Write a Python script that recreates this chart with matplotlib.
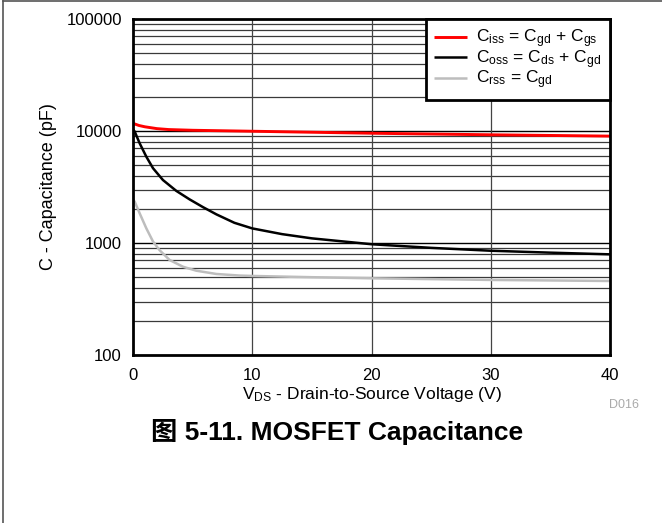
import matplotlib
matplotlib.use("Agg")
import matplotlib.pyplot as plt
from matplotlib.lines import Line2D
from matplotlib.ticker import FixedLocator, NullFormatter

plt.rcParams['font.family'] = ['Liberation Sans', 'Noto Sans CJK SC', 'DejaVu Sans']
plt.rcParams['mathtext.fontset'] = 'custom'
plt.rcParams['mathtext.rm'] = 'Liberation Sans'
plt.rcParams['mathtext.it'] = 'Liberation Sans'
plt.rcParams['mathtext.bf'] = 'Liberation Sans:bold'

# ---- data ----
v_ciss = [0, 0.5, 1, 2, 3, 5, 10, 20, 30, 40]
ciss = [11700, 11200, 10900, 10500, 10300, 10150, 9950, 9550, 9250, 9000]

v_coss = [0, 0.14, 0.56, 1.12, 1.68, 2.51, 3.63, 4.75, 5.87, 7, 8.5, 10, 12.5, 15, 20, 25, 30, 35, 40]
coss = [10300, 9900, 7760, 5890, 4650, 3650, 2920, 2450, 2090, 1800, 1515, 1350, 1200, 1100, 975, 905, 853, 820, 792]

v_crss = [0, 0.14, 0.56, 1.12, 1.68, 2.24, 3.07, 4.19, 5.3, 6.99, 8.94, 10, 15, 20, 30, 40]
crss = [2450, 2340, 1840, 1350, 1030, 860, 705, 614, 566, 529, 512, 508, 495, 484, 468, 458]

labels = [r"C$_{\rm iss}$ = C$_{\rm gd}$ + C$_{\rm gs}$",
          r"C$_{\rm oss}$ = C$_{\rm ds}$ + C$_{\rm gd}$",
          r"C$_{\rm rss}$ = C$_{\rm gd}$"]
colors = ['#ff0000', '#000000', '#bdbdbd']

xticks = [0, 10, 20, 30, 40]
yticks = [100, 1000, 10000, 100000]
ytick_labels = ['100', '1000', '10000', '100000']

fig = plt.figure(figsize=(6.62, 5.23), dpi=100)
ax = fig.add_axes([133/662, 1-355/523, (610-133)/662, (355-19)/523])

ax.set_yscale('log')
ax.set_xlim(0, 40)
ax.set_ylim(100, 100000)

# grid
minor = [m * 10**e for e in (2, 3, 4) for m in range(2, 10)]
for y in minor:
    ax.axhline(y, color='#3a3a3a', lw=0.9, zorder=1)
for y in yticks[1:-1]:
    ax.axhline(y, color='black', lw=1.0, zorder=1)
for x in xticks[1:-1]:
    ax.axvline(x, color='#444444', lw=0.9, zorder=1)

ax.plot(v_ciss, ciss, color=colors[0], lw=2.1, label=labels[0], zorder=3, solid_capstyle='butt')
ax.plot(v_coss, coss, color=colors[1], lw=1.8, label=labels[1], zorder=3, solid_capstyle='butt')
ax.plot(v_crss, crss, color=colors[2], lw=1.8, label=labels[2], zorder=3, solid_capstyle='butt')

ax.set_xticks(xticks)
ax.set_xticklabels([str(t) for t in xticks])
ax.yaxis.set_major_locator(FixedLocator(yticks))
ax.set_yticklabels(ytick_labels)
ax.yaxis.set_minor_locator(FixedLocator(minor))
ax.yaxis.set_minor_formatter(NullFormatter())
ax.tick_params(axis='both', which='both', length=0, labelsize=12)
ax.tick_params(axis='x', pad=9)
ax.tick_params(axis='y', pad=8)

for s in ax.spines.values():
    s.set_linewidth(2.0)
    s.set_color('black')
    s.set_zorder(5)

ax.set_ylabel('C - Capacitance (pF)', fontsize=13, labelpad=7)
ax.set_xlabel(r'V$_{\rm DS}$ - Drain-to-Source Voltage (V)', fontsize=12.5, labelpad=2)

leg = ax.legend(loc='upper right', fontsize=12.5, frameon=True, fancybox=False,
                framealpha=1, edgecolor='black', borderaxespad=0,
                handlelength=1.85, handletextpad=0.55, labelspacing=-0.12,
                borderpad=0.5)
leg.get_frame().set_linewidth(2.0)
leg.set_zorder(6)

fig.text(639/662, 1-405/523, 'D016', color='#aaaaaa', fontsize=9, ha='right', va='center')
fig.text(337/662, 1-432/523, '图 5-11. MOSFET Capacitance', fontsize=19, fontweight='bold',
         ha='center', va='center')

# outer page border (top and left)
fig.add_artist(Line2D([3/662, 1], [1-1/523, 1-1/523], color='#555555', lw=1.2, transform=fig.transFigure))
fig.add_artist(Line2D([3/662, 3/662], [0, 1-1/523], color='#555555', lw=1.2, transform=fig.transFigure))

fig.savefig('out.png', dpi=100)
